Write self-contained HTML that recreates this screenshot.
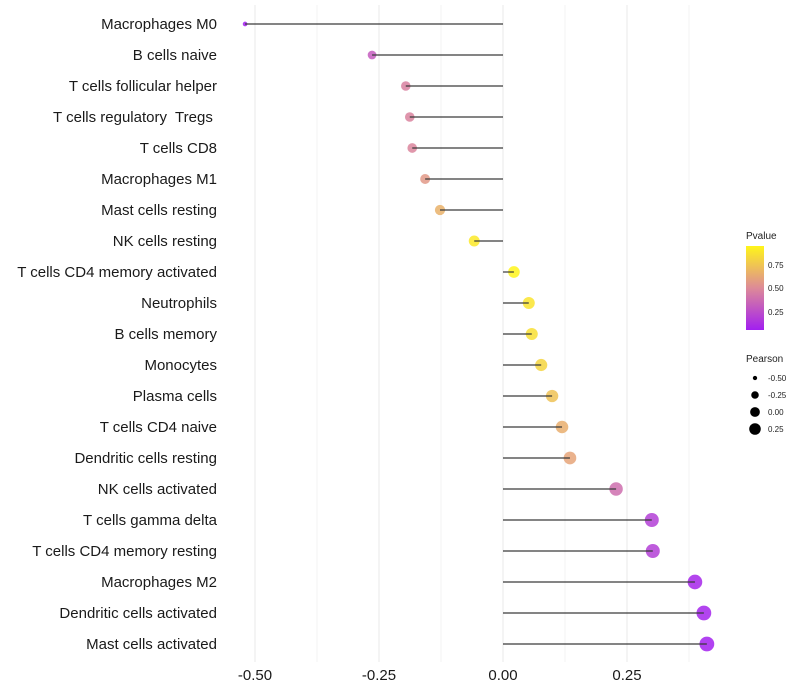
<!DOCTYPE html>
<html><head><meta charset="utf-8">
<style>body{margin:0;background:#fff}svg{display:block;font-family:"Liberation Sans",sans-serif}text{white-space:pre}</style>
</head><body>
<svg id="chart" width="800" height="700" viewBox="0 0 800 700">
<defs>
<linearGradient id="pg" x1="0" y1="1" x2="0" y2="0">
<stop offset="0" stop-color="#a21ff0"/><stop offset="0.5" stop-color="#dd8a98"/><stop offset="1" stop-color="#fff51a"/>
</linearGradient>
</defs>
<g id="grid"></g>
<g id="dots"></g>
<g id="marks"></g>
<g id="ylabels"></g>
<g id="xlabels"></g>
<g>
<text x="746" y="239" font-size="10" fill="#222">Pvalue</text>
<rect x="746" y="246" width="18" height="84" fill="url(#pg)"/>
<text x="768" y="268" font-size="8" fill="#222">0.75</text>
<text x="768" y="291" font-size="8" fill="#222">0.50</text>
<text x="768" y="315" font-size="8" fill="#222">0.25</text>
</g>
<g id="sizeleg">
<text x="746" y="362" font-size="10" fill="#222">Pearson</text>
</g>
</svg>
<script>
const categories=["Macrophages M0","B cells naive","T cells follicular helper","T cells regulatory  Tregs ","T cells CD8","Macrophages M1","Mast cells resting","NK cells resting","T cells CD4 memory activated","Neutrophils","B cells memory","Monocytes","Plasma cells","T cells CD4 naive","Dendritic cells resting","NK cells activated","T cells gamma delta","T cells CD4 memory resting","Macrophages M2","Dendritic cells activated","Mast cells activated"];
const pearson=[-0.52,-0.264,-0.196,-0.188,-0.183,-0.157,-0.127,-0.058,0.022,0.052,0.058,0.077,0.099,0.119,0.135,0.228,0.300,0.302,0.387,0.405,0.411];
const pvalue=[0.01,0.3,0.45,0.46,0.47,0.55,0.65,0.88,0.94,0.86,0.84,0.8,0.72,0.64,0.6,0.38,0.18,0.18,0.08,0.07,0.06];
const xTicks=[-0.5,-0.25,0,0.25];
const xTickLabels=["-0.50","-0.25","0.00","0.25"];
const sizeLegend=[-0.5,-0.25,0,0.25];
const sizeLegendLabels=["-0.50","-0.25","0.00","0.25"];

const NS="http://www.w3.org/2000/svg";
const X=v=>503+v*496;
const Y=i=>24+i*31;
const R=v=>Math.sqrt(Math.max(3,33+53*v));
function lerp(a,b,t){return a.map((c,k)=>Math.round(c+(b[k]-c)*t));}
function col(p){const t=Math.min(1,Math.max(0,(p-0.05)/0.88));const a=[162,31,240],m=[221,138,152],b=[255,245,26];
const c=t<0.5?lerp(a,m,t/0.5):lerp(m,b,(t-0.5)/0.5);return `rgb(${c})`;}
function mk(tag,at,parent){const e=document.createElementNS(NS,tag);for(const k in at)e.setAttribute(k,at[k]);parent.appendChild(e);return e;}

const grid=document.getElementById('grid');
for(let v=-0.5;v<=0.375;v+=0.125){
 const l=mk('line',{x1:X(v),x2:X(v),y1:5,y2:662,stroke:'#ebebeb','stroke-width':(Math.abs(v*4-Math.round(v*4))<1e-6)?1.1:0.6},grid);
 
 
}
const marks=document.getElementById('marks');
const dots=document.getElementById('dots');
const yl=document.getElementById('ylabels');
categories.forEach((c,i)=>{
 const d=mk('circle',{cx:X(pearson[i]),cy:Y(i),r:R(pearson[i]),fill:col(pvalue[i]),'fill-opacity':0.85},dots);
 
 
 const s=mk('line',{x1:X(0),x2:X(pearson[i]),y1:Y(i),y2:Y(i),stroke:'#3a3a3a','stroke-width':1.2},marks);
 
 
 const t=mk('text',{x:217,y:Y(i)+5,'text-anchor':'end','font-size':15,fill:'#1a1a1a'},yl);
 t.textContent=c;
 
 
});
const xl=document.getElementById('xlabels');
xTicks.forEach((v,i)=>{
 const t=mk('text',{x:X(v),y:680,'text-anchor':'middle','font-size':15,fill:'#1a1a1a'},xl);
 t.textContent=xTickLabels[i];
 
 
});
const sl=document.getElementById('sizeleg');
sizeLegend.forEach((v,i)=>{
 const y=378+i*17;
 const c=mk('circle',{cx:755,cy:y,r:R(v)*0.85,fill:'#000'},sl);
 
 
 const t=mk('text',{x:768,y:y+3,'font-size':8,fill:'#222'},sl);
 t.textContent=sizeLegendLabels[i];
 
 
});
</script>
</body></html>
